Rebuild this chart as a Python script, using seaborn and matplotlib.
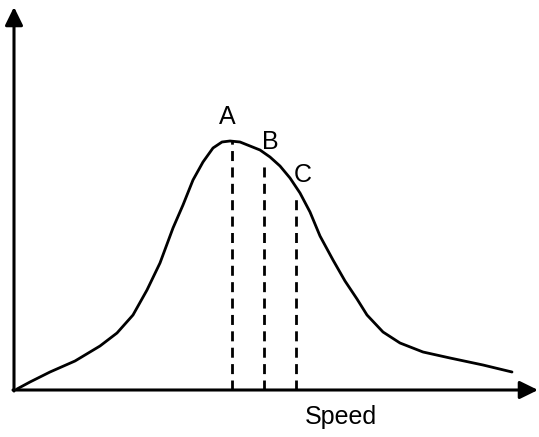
import matplotlib
matplotlib.use("Agg")
import matplotlib.pyplot as plt
import seaborn as sns
import pandas as pd

# Curve (speed, relative number of molecules)
speed = [3, 16, 36, 61, 86, 103, 119, 133, 146, 159,
         169, 179, 189, 199, 208, 216, 226, 236, 246, 256,
         266, 276, 286, 296, 306, 319, 331, 343, 353, 369,
         386, 409, 436, 469, 498]
density = [1, 8, 18, 29, 44, 57, 75, 100, 127, 162,
           185, 210, 228, 242, 248, 249, 248, 244, 240, 233,
           224, 212, 197, 178, 154, 130, 109, 91, 75, 58,
           47, 38, 32, 25, 18]

# Dashed marker lines: position and height
marker_labels = ["A", "B", "C"]
marker_x = [218, 250, 282]
marker_top = [249, 225, 192]
label_x = [213, 256, 289]
label_y = [273, 248, 215]

axis_label = "Speed"

sns.set_theme(style="white")
plt.rcParams['font.family'] = ['Liberation Sans', 'DejaVu Sans']

fig = plt.figure(figsize=(5.39, 4.37), dpi=100)
ax = fig.add_axes([0, 0, 1, 1])

df = pd.DataFrame({"speed": speed, "density": density})
sns.lineplot(data=df, x="speed", y="density", ax=ax, color="black",
             linewidth=2.0, sort=False, estimator=None,
             solid_joinstyle="round", solid_capstyle="round")

ax.vlines(marker_x, 0, marker_top, colors="black", linewidth=2.0,
          linestyles=(0, (3.6, 2.3)))

for lab, lx, ly in zip(marker_labels, label_x, label_y):
    ax.text(lx, ly, lab, ha="center", va="center", fontsize=18, color="black")

# axes arrows
arrow = dict(arrowstyle="-|>,head_length=0.55,head_width=0.27", lw=2.2,
             color="black", mutation_scale=20, shrinkA=0, shrinkB=0)
ax.annotate("", xy=(0, 383), xytext=(0, -1), arrowprops=arrow)
ax.annotate("", xy=(524, 0), xytext=(-1, 0), arrowprops=arrow)

ax.text(327, -27, axis_label, ha="center", va="center", fontsize=18,
        color="black")

ax.set_xlim(-14, 525)
ax.set_ylim(-47, 390)
ax.set_axis_off()
ax.set_xlabel("")
ax.set_ylabel("")

fig.savefig("out.png", dpi=100)
